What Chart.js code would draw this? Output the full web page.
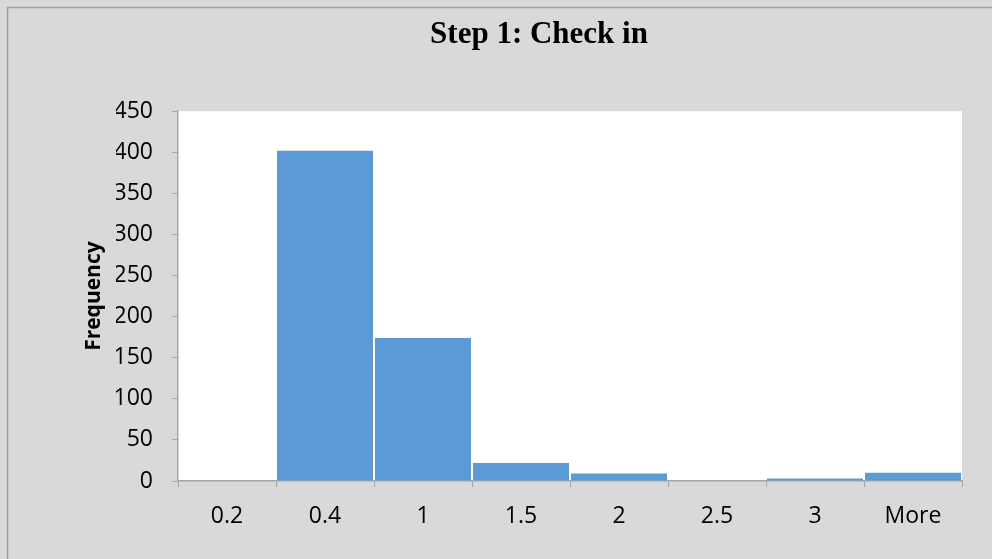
<!DOCTYPE html>
<html lang="en">
  <head>
    <meta charset="UTF-8" />
    <title>Step 1: Check in</title>
    <script src="https://cdn.jsdelivr.net/npm/chart.js"></script>
    <style>
      html, body { margin: 0; padding: 0; background: #d9d9d9; }
      .chart-box { width: 992px; height: 559px; }
    </style>
  </head>
  <body>
    <div class="chart-box">
      <canvas id="histChart"></canvas>
    </div>
  </body>
  <script>
    // Histogram bins and frequencies
    const bins = ["0.2", "0.4", "1", "1.5", "2", "2.5", "3", "More"];
    const frequency = [0, 402, 174, 22, 9, 0, 3, 10];
    const yTicks = { min: 0, max: 450, step: 50 };

    const axisGray = "#a6a6a6";

    // gray page, outer border, white plot area
    const backdrop = {
      id: "backdrop",
      beforeDraw(chart) {
        const { ctx, chartArea } = chart;
        ctx.save();
        ctx.fillStyle = "#d9d9d9";
        ctx.fillRect(0, 0, chart.width, chart.height);
        ctx.strokeStyle = "#a0a0a0";
        ctx.lineWidth = 1.5;
        ctx.beginPath();
        ctx.moveTo(7.5, chart.height);
        ctx.lineTo(7.5, 7.5);
        ctx.lineTo(chart.width, 7.5);
        ctx.stroke();
        ctx.fillStyle = "#ffffff";
        ctx.fillRect(
          chartArea.left,
          chartArea.top,
          chartArea.right - chartArea.left,
          chartArea.bottom - chartArea.top
        );
        ctx.restore();
      },
    };

    const ctx = document.getElementById("histChart").getContext("2d");
    new Chart(ctx, {
      type: "bar",
      data: {
        labels: bins,
        datasets: [
          {
            label: "Frequency",
            data: frequency,
            backgroundColor: "#5b9bd5",
            borderWidth: 0,
            barPercentage: 0.98,
            categoryPercentage: 1.0,
          },
        ],
      },
      options: {
        responsive: true,
        maintainAspectRatio: false,
        animation: false,
        layout: {
          padding: { left: 116, right: 30, top: 0, bottom: 0 },
        },
        plugins: {
          legend: { display: false },
          tooltip: { enabled: false },
          title: {
            display: true,
            text: "Step 1: Check in",
            color: "#000000",
            font: { family: "Liberation Serif", size: 31, weight: "bold" },
            padding: { top: 16, bottom: 58 },
          },
        },
        scales: {
          x: {
            grid: {
              offset: true,
              drawOnChartArea: false,
              drawTicks: true,
              tickLength: 6,
              color: axisGray,
            },
            border: { color: axisGray, width: 1.5 },
            ticks: {
              color: "#000000",
              padding: 16,
              font: { family: "Open Sans", size: 23 },
            },
            afterFit(scale) {
              scale.height = 78;
            },
          },
          y: {
            min: yTicks.min,
            max: yTicks.max,
            grid: {
              drawOnChartArea: false,
              drawTicks: true,
              tickLength: 6,
              color: axisGray,
            },
            border: { color: axisGray, width: 1.5 },
            ticks: {
              stepSize: yTicks.step,
              color: "#000000",
              padding: 19,
              font: { family: "Open Sans", size: 23 },
            },
            title: {
              display: true,
              text: "Frequency",
              color: "#000000",
              font: { family: "Open Sans", size: 21, weight: "bold" },
              padding: { top: -35, bottom: 0 },
            },
            afterFit(scale) {
              scale.width = 62;
            },
          },
        },
      },
      plugins: [backdrop],
    });
  </script>
</html>
